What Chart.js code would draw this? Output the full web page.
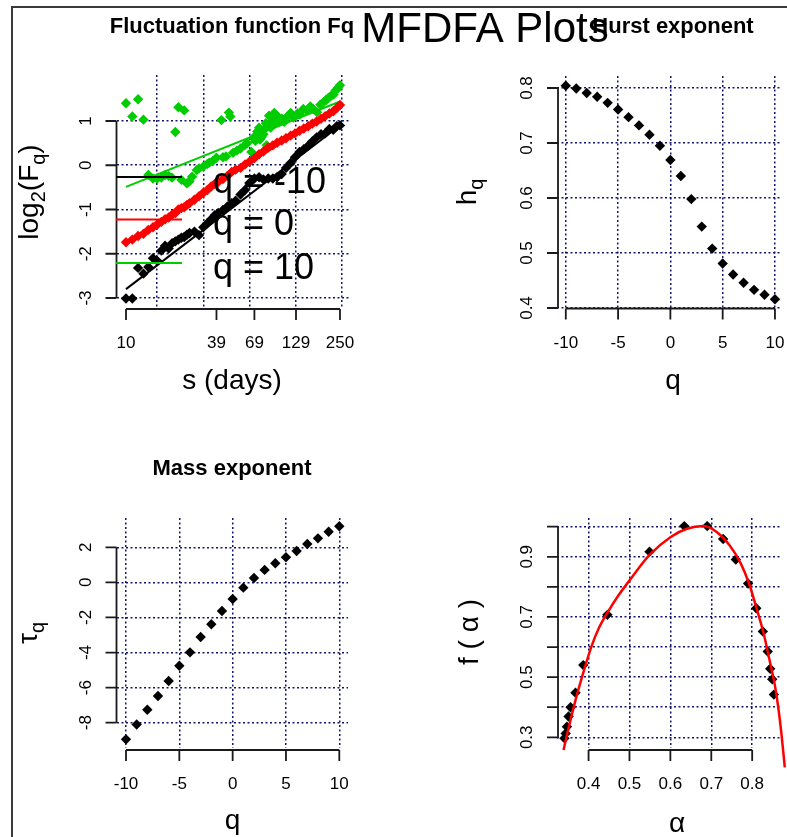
<!DOCTYPE html>
<html>
<head>
<meta charset="utf-8">
<title>MFDFA Plots</title>
<script src="https://cdn.jsdelivr.net/npm/chart.js@4.4.1/dist/chart.umd.min.js"></script>
<style>
  html, body { margin: 0; padding: 0; background: #fff; }
  #page { position: relative; width: 787px; height: 837px; overflow: hidden; background: #fff; }
  #page canvas { position: absolute; left: 0; top: 0; }
  #frame { position: absolute; left: 11px; top: 6px; width: 800px; height: 850px;
           border-top: 2px solid #3a3a3a; border-left: 2px solid #3a3a3a; }
</style>
</head>
<body>
<div id="page">
  <div id="frame"></div>
  <canvas id="fluct-chart" width="787" height="837"></canvas>
  <canvas id="hurst-chart" width="787" height="837"></canvas>
  <canvas id="tau-chart" width="787" height="837"></canvas>
  <canvas id="spectrum-chart" width="787" height="837"></canvas>
</div>
<script>
// Fluctuation function: log2(Fq) against scale s (days)
const scaleDays = [10, 11, 12, 13, 14, 15, 16, 17, 18, 19, 20, 21, 22, 23, 24, 25, 26, 28, 30, 32,
  34, 36, 38, 40, 43, 46, 49, 52, 56, 60, 64, 69, 74, 79, 85, 91, 97, 104, 111, 119,
  127, 136, 145, 155, 165, 176, 188, 200, 213, 226, 238, 250];
const log2FqNeg10 = [-3.01, -3.01, -2.32, -2.45, -2.30, -2.10, -2.16, -1.93, -1.82, -1.88, -1.76, -1.72, -1.68, -1.64, -1.62, -1.57, -1.53, -1.50, -1.58, -1.40,
  -1.31, -1.22, -1.13, -1.08, -1.01, -0.93, -0.86, -0.80, -0.66, -0.56, -0.40, -0.30, -0.27, -0.32, -0.30, -0.30, -0.27, -0.20, -0.06, 0.05,
  0.18, 0.30, 0.36, 0.44, 0.54, 0.63, 0.70, 0.72, 0.82, 0.80, 0.88, 0.90];
const log2FqZero = [-1.74, -1.68, -1.60, -1.55, -1.46, -1.40, -1.34, -1.28, -1.22, -1.18, -1.12, -1.08, -1.00, -0.97, -0.95, -0.90, -0.86, -0.78, -0.70, -0.62,
  -0.56, -0.48, -0.42, -0.38, -0.31, -0.24, -0.15, -0.10, -0.06, 0.02, 0.08, 0.16, 0.25, 0.31, 0.40, 0.45, 0.51, 0.56, 0.61, 0.67,
  0.72, 0.78, 0.83, 0.88, 0.94, 0.99, 1.05, 1.11, 1.17, 1.22, 1.29, 1.36];
const scaleDaysPos10 = [10, 11, 12, 13, 14, 15, 16, 17, 18, 19, 20, 21, 22, 23, 24, 25, 26, 27, 29, 30,
  32, 34, 35, 37, 39, 42, 43, 45, 47, 48, 50, 53, 56, 60, 62, 66, 68, 70, 72, 74,
  75, 77, 79, 80, 82, 83, 86, 88, 89, 91, 93, 95, 97, 100, 104, 108, 112, 115, 119, 124,
  132, 137, 144, 152, 160, 167, 177, 186, 195, 203, 210, 217, 227, 234, 243, 250];
const log2FqPos10 = [1.40, 1.10, 1.49, 1.03, -0.22, -0.30, -0.30, -0.28, -0.22, -0.24, -0.28, 0.75, 1.31, -0.33, 1.24, -0.41, -0.36, -0.26, -0.11, -0.07,
  -0.03, 0.03, 0.06, 0.10, 0.17, 1.02, 0.18, 0.20, 1.19, 1.10, 0.28, 0.33, 0.38, 0.46, 0.50, 0.30, 0.62, 0.55, 0.76, 0.85,
  0.58, 0.64, 0.70, 0.82, 0.95, 0.45, 1.12, 0.85, 0.92, 1.02, 1.18, 0.95, 1.12, 1.00, 1.05, 0.98, 1.08, 1.12, 1.18, 1.08,
  1.17, 1.15, 1.27, 1.24, 1.33, 1.27, 1.20, 1.37, 1.42, 1.48, 1.52, 1.56, 1.60, 1.69, 1.75, 1.81];
// regression lines, given at the two ends of the scale range
const fitDays = [10, 250];
const fitNeg10 = [-2.80, 0.90];
const fitZero = [-1.74, 1.36];
const fitPos10 = [-0.49, 1.44];
const dayTicks = [10, 39, 69, 129, 250];

// Generalised Hurst and mass exponents
const qValues = [-10, -9, -8, -7, -6, -5, -4, -3, -2, -1, 0, 1, 2, 3, 4, 5, 6, 7, 8, 9, 10];
const hurstExp = [0.804, 0.799, 0.791, 0.784, 0.773, 0.761, 0.747, 0.732, 0.715, 0.695, 0.669,
  0.640, 0.598, 0.548, 0.508, 0.481, 0.461, 0.446, 0.433, 0.424, 0.416];
const massExp = [-8.95, -8.10, -7.26, -6.48, -5.62, -4.75, -3.99, -3.11, -2.39, -1.63, -0.95,
  -0.30, 0.25, 0.71, 1.09, 1.43, 1.79, 2.19, 2.51, 2.89, 3.20];

// Singularity spectrum f(alpha) and its fitted curve
const alphaValues = [0.341, 0.344, 0.347, 0.351, 0.356, 0.368, 0.387, 0.446, 0.549, 0.634,
  0.690, 0.729, 0.760, 0.790, 0.810, 0.826, 0.838, 0.844, 0.849, 0.853];
const fAlphaValues = [0.297, 0.313, 0.335, 0.369, 0.400, 0.448, 0.540, 0.707, 0.917, 1.002,
  1.002, 0.959, 0.891, 0.811, 0.729, 0.652, 0.585, 0.528, 0.493, 0.442];
const alphaCurve = [0.3388, 0.3458, 0.3578, 0.3697, 0.3817, 0.3904, 0.4065, 0.4255, 0.4478, 0.4733, 0.5050, 0.5490, 0.6008,
  0.6406, 0.6800, 0.7124, 0.7442, 0.7720, 0.7920, 0.8120, 0.8279, 0.8438, 0.8558, 0.8637, 0.8717, 0.8797];
const fAlphaCurve = [0.258, 0.300, 0.368, 0.432, 0.490, 0.530, 0.600, 0.664, 0.718, 0.772, 0.830, 0.906, 0.966,
  0.993, 1.002, 0.983, 0.939, 0.878, 0.812, 0.723, 0.646, 0.548, 0.470, 0.400, 0.310, 0.200];

const FONT = '"Liberation Sans", Arial, sans-serif';
const BLACK = '#000000';
const RED = '#ff0000';
const GREEN = '#00cd00';
const GRID_COLOR = '#14146e';
const TICK_LEN = 11;

const toPoints = (xs, ys) => xs.map((x, i) => ({ x: x, y: ys[i] }));

// grid-only scale: grid lines at fixed values, no labels (axes are drawn R-style by the plugin)
function gridScale(type, min, max, gridAt) {
    return {
        type: type,
        min: min,
        max: max,
        afterBuildTicks: axis => { axis.ticks = gridAt.map(v => ({ value: v })); },
        afterFit: axis => { if (axis.isHorizontal()) axis.height = 0; else axis.width = 0; },
        ticks: { display: false },
        grid: { color: GRID_COLOR, lineWidth: 1.5, drawTicks: false },
        border: { display: false, dash: [2, 2.5] }
    };
}

function panelOptions(area, xScale, yScale) {
    return {
        responsive: false,
        animation: false,
        devicePixelRatio: 1,
        layout: {
            padding: { left: area.left, top: area.top, right: 787 - area.right, bottom: 837 - area.bottom }
        },
        plugins: { legend: { display: false }, tooltip: { enabled: false } },
        scales: { x: xScale, y: yScale }
    };
}

// text with subscripts, centred on (x, y), optionally rotated
function drawRich(ctx, parts, x, y, size, angle) {
    ctx.save();
    ctx.translate(x, y);
    ctx.rotate(angle);
    const fontFor = p => (p.sub ? Math.round(size * 0.72) : size) + 'px ' + FONT;
    let total = 0;
    parts.forEach(p => { ctx.font = fontFor(p); total += ctx.measureText(p.t).width; });
    let cx = -total / 2;
    ctx.textAlign = 'left';
    ctx.textBaseline = 'alphabetic';
    parts.forEach(p => {
        ctx.font = fontFor(p);
        ctx.fillText(p.t, cx, p.sub ? size * 0.25 : 0);
        cx += ctx.measureText(p.t).width;
    });
    ctx.restore();
}

// R-style axes: line from first to last tick, outward ticks, rotated y labels, titles
function rStyle(decor) {
    return {
        id: 'rStyle',
        afterDraw(chart) {
            const ctx = chart.ctx;
            const xs = chart.scales.x, ys = chart.scales.y;
            ctx.save();
            ctx.strokeStyle = '#1a1a1a';
            ctx.fillStyle = BLACK;
            ctx.lineWidth = 1.8;
            ctx.font = '17px ' + FONT;

            const xp = decor.xTicks.map(v => xs.getPixelForValue(v));
            const xAt = decor.xAt;
            ctx.beginPath();
            ctx.moveTo(xp[0], xAt);
            ctx.lineTo(xp[xp.length - 1], xAt);
            xp.forEach(p => { ctx.moveTo(p, xAt); ctx.lineTo(p, xAt + TICK_LEN); });
            ctx.stroke();
            ctx.textAlign = 'center';
            ctx.textBaseline = 'alphabetic';
            xp.forEach((p, i) => ctx.fillText(decor.xLabels[i], p, xAt + 39));

            const yp = decor.yTicks.map(v => ys.getPixelForValue(v));
            const yAt = decor.yAt;
            ctx.beginPath();
            ctx.moveTo(yAt, yp[0]);
            ctx.lineTo(yAt, yp[yp.length - 1]);
            yp.forEach(p => { ctx.moveTo(yAt, p); ctx.lineTo(yAt - TICK_LEN, p); });
            ctx.stroke();
            yp.forEach((p, i) => {
                if (!decor.yLabels[i]) return;
                ctx.save();
                ctx.translate(yAt - 26, p);
                ctx.rotate(-Math.PI / 2);
                ctx.fillText(decor.yLabels[i], 0, 0);
                ctx.restore();
            });

            ctx.font = 'bold 22px ' + FONT;
            ctx.fillText(decor.title.text, decor.title.x, decor.title.y);
            drawRich(ctx, decor.xTitle.parts, decor.xTitle.x, decor.xTitle.y, 28, 0);
            drawRich(ctx, decor.yTitle.parts, decor.yTitle.x, decor.yTitle.y, 28, -Math.PI / 2);
            if (decor.extra) decor.extra(ctx);
            ctx.restore();
        }
    };
}

const diamond = { pointStyle: 'rectRot', pointRadius: 5.2, borderWidth: 0, pointBorderWidth: 0 };

// Fluctuation function panel
const legendRows = [
    { color: BLACK, y: 177, text: 'q = -10' },
    { color: RED, y: 219.5, text: 'q = 0' },
    { color: GREEN, y: 263, text: 'q = 10' }
];
const fluctuationChart = new Chart(document.getElementById('fluct-chart'), {
    type: 'scatter',
    data: {
        datasets: [
            { data: toPoints(scaleDays, log2FqNeg10), backgroundColor: BLACK, order: 0, ...diamond },
            { data: toPoints(scaleDays, log2FqZero), backgroundColor: RED, order: 1, ...diamond },
            { data: toPoints(scaleDaysPos10, log2FqPos10), backgroundColor: GREEN, order: 2, ...diamond },
            { data: toPoints(fitDays, fitNeg10), showLine: true, borderColor: BLACK, borderWidth: 2, pointRadius: 0, order: 3 },
            { data: toPoints(fitDays, fitZero), showLine: true, borderColor: RED, borderWidth: 2, pointRadius: 0, order: 4 },
            { data: toPoints(fitDays, fitPos10), showLine: true, borderColor: GREEN, borderWidth: 2, pointRadius: 0, order: 5 }
        ]
    },
    options: panelOptions({ left: 117, top: 75, right: 349, bottom: 307 },
        gridScale('logarithmic', 8.734, 286.3, [16, 32, 64, 128, 256]),
        gridScale('linear', -3.2034, 2.0395, [-3, -2, -1, 0, 1])),
    plugins: [rStyle({
        xTicks: dayTicks, xLabels: dayTicks.map(String), xAt: 309,
        yTicks: [-3, -2, -1, 0, 1], yLabels: ['-3', '-2', '-1', '0', '1'], yAt: 116.5,
        title: { text: 'Fluctuation function Fq', x: 232, y: 33 },
        xTitle: { parts: [{ t: 's (days)' }], x: 232, y: 389 },
        yTitle: { parts: [{ t: 'log' }, { t: '2', sub: true }, { t: '(F' }, { t: 'q', sub: true }, { t: ')' }], x: 38, y: 192 },
        extra: ctx => {
            ctx.lineWidth = 2;
            ctx.font = '36px ' + FONT;
            ctx.textAlign = 'left';
            legendRows.forEach(row => {
                ctx.strokeStyle = row.color;
                ctx.beginPath();
                ctx.moveTo(116, row.y);
                ctx.lineTo(182, row.y);
                ctx.stroke();
                ctx.fillStyle = BLACK;
                ctx.fillText(row.text, 213, row.y + 15.5);
            });
        }
    })]
});

// Hurst exponent panel (also carries the page title)
const hurstChart = new Chart(document.getElementById('hurst-chart'), {
    type: 'scatter',
    data: {
        datasets: [{ data: toPoints(qValues, hurstExp), backgroundColor: BLACK, ...diamond }]
    },
    options: panelOptions({ left: 557, top: 76, right: 787, bottom: 310 },
        gridScale('linear', -10.841, 10.654, [-10, -5, 0, 5, 10]),
        gridScale('linear', 0.39636, 0.8218, [0.4, 0.5, 0.6, 0.7, 0.8])),
    plugins: [rStyle({
        xTicks: [-10, -5, 0, 5, 10], xLabels: ['-10', '-5', '0', '5', '10'], xAt: 308.5,
        yTicks: [0.4, 0.5, 0.6, 0.7, 0.8], yLabels: ['0.4', '0.5', '0.6', '0.7', '0.8'], yAt: 558,
        title: { text: 'Hurst exponent', x: 673, y: 33 },
        xTitle: { parts: [{ t: 'q' }], x: 673, y: 389 },
        yTitle: { parts: [{ t: 'h' }, { t: 'q', sub: true }], x: 476, y: 192 },
        extra: ctx => {
            ctx.font = '42px ' + FONT;
            ctx.textAlign = 'center';
            ctx.fillStyle = BLACK;
            ctx.fillText('MFDFA Plots', 485, 42);
        }
    })]
});

// Mass exponent panel
const tauChart = new Chart(document.getElementById('tau-chart'), {
    type: 'scatter',
    data: {
        datasets: [{ data: toPoints(qValues, massExp), backgroundColor: BLACK, ...diamond }]
    },
    options: panelOptions({ left: 117, top: 518, right: 348, bottom: 748 },
        gridScale('linear', -10.844, 10.816, [-10, -5, 0, 5, 10]),
        gridScale('linear', -9.442, 3.670, [-8, -6, -4, -2, 0, 2])),
    plugins: [rStyle({
        xTicks: [-10, -5, 0, 5, 10], xLabels: ['-10', '-5', '0', '5', '10'], xAt: 750,
        yTicks: [-8, -6, -4, -2, 0, 2], yLabels: ['-8', '-6', '-4', '-2', '0', '2'], yAt: 116.5,
        title: { text: 'Mass exponent', x: 232, y: 475 },
        xTitle: { parts: [{ t: 'q' }], x: 232.5, y: 829 },
        yTitle: { parts: [{ t: 'τ' }, { t: 'q', sub: true }], x: 37, y: 633 }
    })]
});

// Singularity spectrum panel
const spectrumChart = new Chart(document.getElementById('spectrum-chart'), {
    type: 'scatter',
    data: {
        datasets: [
            { data: toPoints(alphaCurve, fAlphaCurve), showLine: true, borderColor: RED, borderWidth: 2.5,
              pointRadius: 0, cubicInterpolationMode: 'monotone', clip: false, order: 0 },
            { data: toPoints(alphaValues, fAlphaValues), backgroundColor: BLACK, order: 1, ...diamond }
        ]
    },
    options: panelOptions({ left: 557, top: 518, right: 787, bottom: 748 },
        gridScale('linear', 0.32282, 0.8724, [0.4, 0.5, 0.6, 0.7, 0.8]),
        gridScale('linear', 0.26444, 1.0289, [0.3, 0.4, 0.5, 0.6, 0.7, 0.8, 0.9, 1.0])),
    plugins: [rStyle({
        xTicks: [0.4, 0.5, 0.6, 0.7, 0.8], xLabels: ['0.4', '0.5', '0.6', '0.7', '0.8'], xAt: 750,
        yTicks: [0.3, 0.4, 0.5, 0.6, 0.7, 0.8, 0.9, 1.0], yLabels: ['0.3', '', '0.5', '', '0.7', '', '0.9', ''], yAt: 558,
        title: { text: '', x: 0, y: 0 },
        xTitle: { parts: [{ t: 'α' }], x: 677, y: 832 },
        yTitle: { parts: [{ t: 'f ( α )' }], x: 478, y: 632 }
    })]
});
</script>
</body>
</html>
